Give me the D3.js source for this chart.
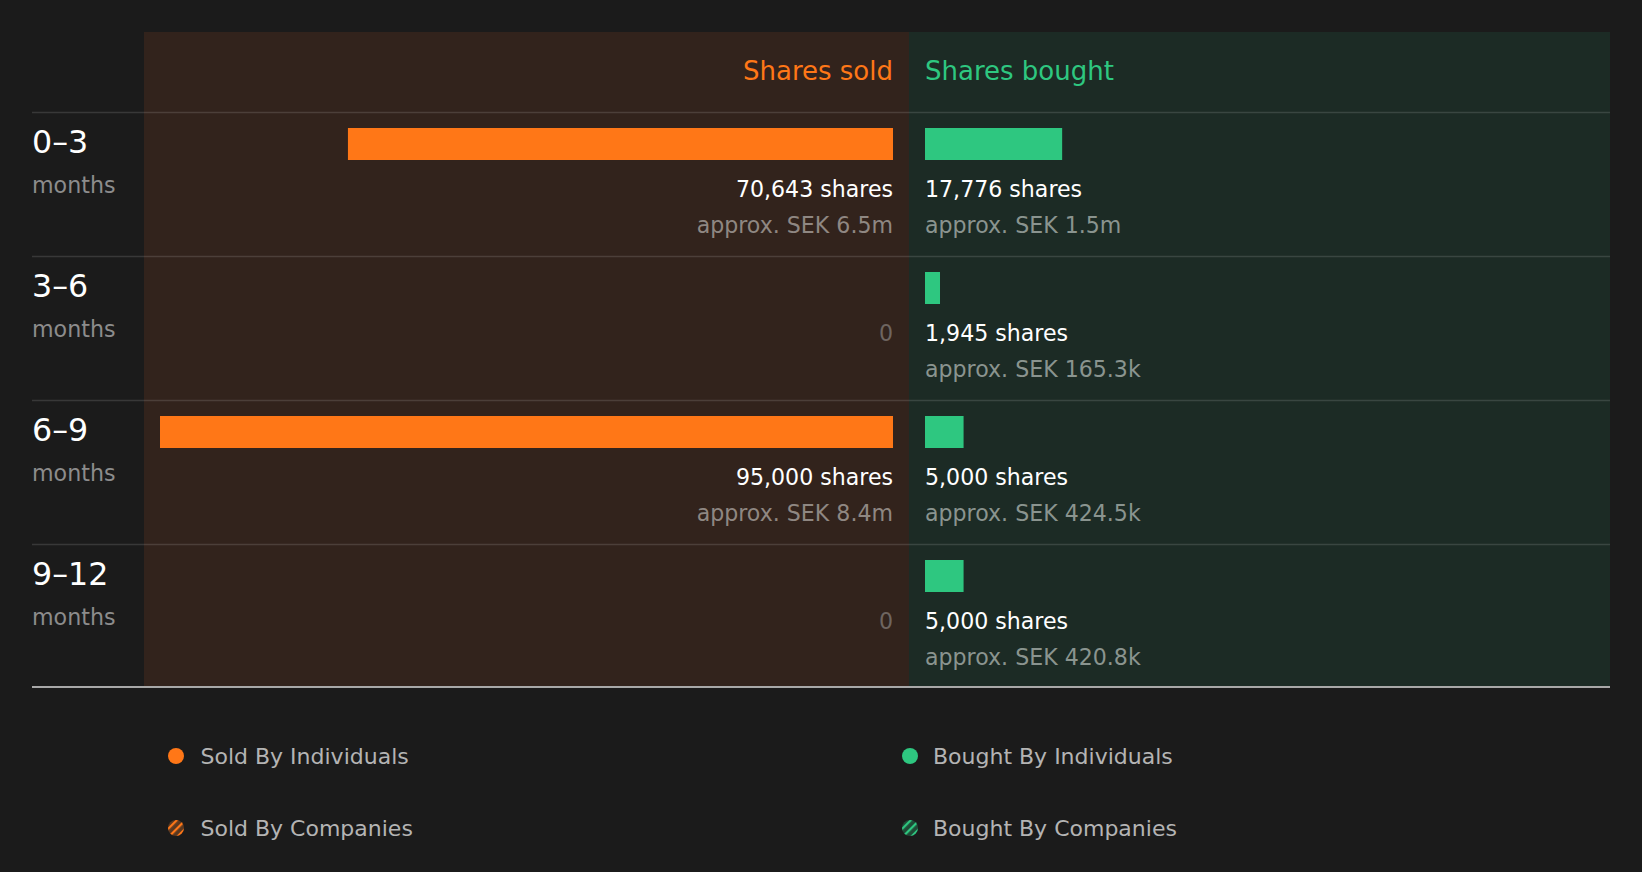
<!DOCTYPE html>
<html>
<head>
<meta charset="utf-8">
<script src="https://cdn.jsdelivr.net/npm/d3@7"></script>
<style>
  html, body { margin: 0; padding: 0; background: #1b1b1b; }
  svg { display: block; font-family: "DejaVu Sans", sans-serif; }
</style>
</head>
<body>
<script>
// Insider transactions by period
const periods = ["0–3", "3–6", "6–9", "9–12"];
const soldShares = [70643, 0, 95000, 0];
const boughtShares = [17776, 1945, 5000, 5000];
const soldValue = ["SEK 6.5m", null, "SEK 8.4m", null];
const boughtValue = ["SEK 1.5m", "SEK 165.3k", "SEK 424.5k", "SEK 420.8k"];
const legendItems = ["Sold By Individuals", "Bought By Individuals", "Sold By Companies", "Bought By Companies"];

const width = 1642;
const height = 872;

const orange = "#ff7717";
const green = "#2ec780";

const left = 32, right = 1610;
const mid = 909, soldLeft = 144;
const pad = 16;
const headTop = 32, rowsTop = 112.5;

const svg = d3.select("body")
  .append("svg")
  .attr("width", width)
  .attr("height", height);

const defs = svg.append("defs");
function hatch(id, bg, fg) {
  const p = defs.append("pattern")
    .attr("id", id)
    .attr("patternUnits", "userSpaceOnUse")
    .attr("width", 6)
    .attr("height", 6)
    .attr("patternTransform", "rotate(45)");
  p.append("rect").attr("width", 6).attr("height", 6).attr("fill", bg);
  p.append("rect").attr("x", 0).attr("width", 2.2).attr("height", 6).attr("fill", fg);
}
hatch("hatchSold", "#5a3820", orange);
hatch("hatchBought", "#1f4a36", green);

// row scale
const y = d3.scaleBand()
  .domain(periods)
  .range([rowsTop, rowsTop + 144 * periods.length]);

// shared share-count scale
const x = d3.scaleLinear()
  .domain([0, d3.max(soldShares.concat(boughtShares))])
  .range([0, mid - soldLeft - 2 * pad]);

const bottom = y.range()[1] - 1.5;

// panel backgrounds
svg.append("rect")
  .attr("x", soldLeft).attr("y", headTop)
  .attr("width", mid - soldLeft).attr("height", bottom - headTop)
  .attr("fill", "#32231c");
svg.append("rect")
  .attr("x", mid).attr("y", headTop)
  .attr("width", right - mid).attr("height", bottom - headTop)
  .attr("fill", "#1c2b25");

// headings
svg.append("text")
  .attr("x", mid - pad).attr("y", 80)
  .attr("text-anchor", "end")
  .attr("font-size", 26)
  .attr("fill", orange)
  .text("Shares sold");
svg.append("text")
  .attr("x", mid + pad).attr("y", 80)
  .attr("font-size", 26)
  .attr("fill", green)
  .text("Shares bought");

// row dividers
svg.selectAll("line.div")
  .data(periods)
  .enter()
  .append("line")
  .attr("class", "div")
  .attr("x1", left).attr("x2", right)
  .attr("y1", d => y(d)).attr("y2", d => y(d))
  .attr("stroke", "rgba(255,255,255,0.13)")
  .attr("stroke-width", 1.5);

svg.append("line")
  .attr("x1", left).attr("x2", right)
  .attr("y1", bottom).attr("y2", bottom)
  .attr("stroke", "#a8a8a8")
  .attr("stroke-width", 2);

const fmt = d3.format(",");

const rows = svg.selectAll("g.row")
  .data(periods)
  .enter()
  .append("g")
  .attr("class", "row")
  .attr("transform", d => `translate(0,${y(d)})`);

// row labels
rows.append("text")
  .attr("x", left).attr("y", 40.5)
  .attr("font-size", 31.7)
  .attr("fill", "#ffffff")
  .text(d => d);
rows.append("text")
  .attr("x", left).attr("y", 80)
  .attr("font-size", 22.2)
  .attr("fill", "#8c8c8c")
  .text("months");

// sold bars
rows.filter((d, i) => soldShares[i] > 0)
  .append("rect")
  .attr("x", d => mid - pad - x(soldShares[periods.indexOf(d)]))
  .attr("y", 15.5)
  .attr("width", d => x(soldShares[periods.indexOf(d)]))
  .attr("height", 32)
  .attr("fill", orange);

// bought bars
rows.filter((d, i) => boughtShares[i] > 0)
  .append("rect")
  .attr("x", mid + pad)
  .attr("y", 15.5)
  .attr("width", d => x(boughtShares[periods.indexOf(d)]))
  .attr("height", 32)
  .attr("fill", green);

// sold labels
rows.append("text")
  .attr("x", mid - pad).attr("y", 84.5)
  .attr("text-anchor", "end")
  .attr("font-size", 22.1)
  .attr("fill", (d, i) => soldShares[i] > 0 ? "#ffffff" : "#6e6560")
  .text((d, i) => soldShares[i] > 0 ? fmt(soldShares[i]) + " shares" : "0");
rows.filter((d, i) => soldValue[i])
  .append("text")
  .attr("x", mid - pad).attr("y", 120)
  .attr("text-anchor", "end")
  .attr("font-size", 22.1)
  .attr("fill", "#8f8782")
  .text(d => "approx. " + soldValue[periods.indexOf(d)]);

// bought labels
rows.append("text")
  .attr("x", mid + pad).attr("y", 84.5)
  .attr("font-size", 22.1)
  .attr("fill", "#ffffff")
  .text((d, i) => fmt(boughtShares[i]) + " shares");
rows.filter((d, i) => boughtValue[i])
  .append("text")
  .attr("x", mid + pad).attr("y", 120)
  .attr("font-size", 22.1)
  .attr("fill", "#8a948f")
  .text(d => "approx. " + boughtValue[periods.indexOf(d)]);

// legend
const legendFill = [orange, green, "url(#hatchSold)", "url(#hatchBought)"];
const lg = svg.selectAll("g.legend")
  .data(legendItems)
  .enter()
  .append("g")
  .attr("class", "legend")
  .attr("transform", (d, i) => `translate(${i % 2 === 0 ? 176 : 910},${i < 2 ? 756 : 828})`);
lg.append("circle")
  .attr("r", 8)
  .attr("fill", (d, i) => legendFill[i]);
lg.append("text")
  .attr("x", (d, i) => i % 2 === 0 ? 24.5 : 23)
  .attr("y", 7.5)
  .attr("font-size", 22)
  .attr("fill", "#b4b4b4")
  .text(d => d);
</script>
</body>
</html>
